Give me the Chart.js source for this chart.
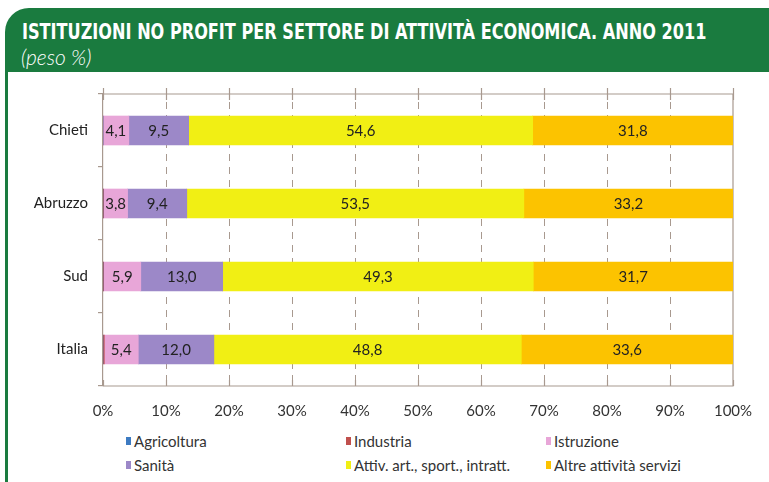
<!DOCTYPE html>
<html>
<head>
<meta charset="utf-8">
<script src="https://cdn.jsdelivr.net/npm/chart.js@4.4.1/dist/chart.umd.min.js"></script>
<style>
  html, body { margin: 0; padding: 0; background: #fff; }
  body { width: 769px; height: 482px; position: relative; overflow: hidden; font-family: 'Lato', 'Noto Sans', sans-serif; }
  #head { position: absolute; left: 5px; top: 8px; width: 764px; height: 64px; background: #1a7b3f; border-top-left-radius: 24px; }
  #side { position: absolute; left: 5px; top: 60px; width: 3px; height: 430px; background: #1a7b3f; }
  #title { position: absolute; left: 17px; top: 11px; color: #fff; font-family: 'Liberation Sans Narrow', 'DejaVu Sans Condensed', sans-serif; font-weight: bold; font-size: 22px; white-space: nowrap; transform-origin: left top; }
  #sub { position: absolute; left: 16px; top: 36px; color: #fff; font-family: 'Lato', sans-serif; font-style: italic; font-weight: 300; font-size: 21px; }
  #wrap { position: absolute; left: 0; top: 72px; width: 769px; height: 356px; }
  #legend { position: absolute; left: 0; top: 429px; width: 769px; height: 52px; font-size: 15px; color: #333; }
  .item { position: absolute; white-space: nowrap; }
  .item i { display: inline-block; width: 5px; height: 8px; margin-right: 3px; vertical-align: 2px; }
</style>
</head>
<body>
<div id="head">
  <div id="title">ISTITUZIONI NO PROFIT PER SETTORE DI ATTIVITÀ ECONOMICA. ANNO 2011</div>
  <div id="sub">(peso %)</div>
</div>
<div id="side"></div>
<div id="wrap"><canvas id="chart"></canvas></div>
<div id="legend"></div>
<script>
// categorie e valori (peso %)
const territori = ['Chieti', 'Abruzzo', 'Sud', 'Italia'];
const settori = ['Agricoltura', 'Industria', 'Istruzione', 'Sanità', 'Attiv. art., sport., intratt.', 'Altre attività servizi'];
const agricoltura = [0, 0, 0, 0];
const industria = [0, 0.1, 0.1, 0.2];
const istruzione = [4.1, 3.8, 5.9, 5.4];
const sanita = [9.5, 9.4, 13.0, 12.0];
const attivArt = [54.6, 53.5, 49.3, 48.8];
const altreServizi = [31.8, 33.2, 31.7, 33.6];
const xTicks = [0, 10, 20, 30, 40, 50, 60, 70, 80, 90, 100];

const COLORS = ['#3d7bc2', '#c0504d', '#e8a6d8', '#9c88c8', '#f1ef14', '#fcc300'];
const serie = [agricoltura, industria, istruzione, sanita, attivArt, altreServizi];
const GRID = '#a8998f';

// fit title width
const t = document.getElementById('title');
t.style.transform = 'scaleX(' + (684 / t.scrollWidth) + ')';

// legend
const leg = document.getElementById('legend');
const legPos = [[126, 3], [346, 3], [546, 3], [126, 27], [346, 27], [546, 27]];
settori.forEach((s, i) => {
  const d = document.createElement('div');
  d.className = 'item';
  d.style.left = legPos[i][0] + 'px';
  d.style.top = legPos[i][1] + 'px';
  d.innerHTML = '<i style="background:' + COLORS[i] + '"></i>' + s;
  leg.appendChild(d);
});

// value labels inside segments
const valueLabels = {
  id: 'valueLabels',
  afterDatasetsDraw(chart) {
    const ctx = chart.ctx;
    ctx.save();
    ctx.font = '15px Lato, sans-serif';
    ctx.fillStyle = '#222';
    ctx.textAlign = 'center';
    ctx.textBaseline = 'middle';
    chart.data.datasets.forEach((ds, di) => {
      chart.getDatasetMeta(di).data.forEach((bar, i) => {
        const v = ds.data[i];
        if (v < 1) return;
        const x = (bar.x + bar.base) / 2;
        ctx.fillText(v.toFixed(1).replace('.', ','), x, bar.y + 1);
      });
    });
    ctx.restore();
  }
};

// dashed grid + solid frame: top, bottom, right lines plus tick stubs
const frame = {
  id: 'frame',
  beforeDatasetsDraw(chart) {
    const { ctx, chartArea: a, scales } = chart;
    ctx.save();
    ctx.strokeStyle = GRID;
    ctx.lineWidth = 1;
    ctx.setLineDash([7, 6]);
    ctx.beginPath();
    xTicks.slice(1, -1).forEach(v => {
      const x = Math.round(scales.x.getPixelForValue(v)) + 0.5;
      ctx.moveTo(x, a.top + 8); ctx.lineTo(x, a.bottom - 6);
    });
    ctx.stroke();
    ctx.setLineDash([]);
    ctx.lineWidth = 1.2;
    ctx.beginPath();
    ctx.moveTo(a.left, a.top); ctx.lineTo(a.right, a.top); ctx.lineTo(a.right, a.bottom); ctx.lineTo(a.left, a.bottom);
    xTicks.forEach(v => {
      const x = Math.round(scales.x.getPixelForValue(v)) + 0.5;
      ctx.moveTo(x, a.top - 6); ctx.lineTo(x, a.top + 6);
      ctx.moveTo(x, a.bottom - 6); ctx.lineTo(x, a.bottom);
    });
    ctx.stroke();
    ctx.restore();
  }
};

new Chart(document.getElementById('chart'), {
  type: 'bar',
  data: {
    labels: territori,
    datasets: settori.map((s, i) => ({
      label: s,
      data: serie[i],
      backgroundColor: COLORS[i],
      borderWidth: 0,
      barThickness: 29
    }))
  },
  options: {
    indexAxis: 'y',
    responsive: true,
    maintainAspectRatio: false,
    animation: false,
    layout: { padding: { top: 22, right: 36, left: 0, bottom: 0 } },
    plugins: { legend: { display: false }, tooltip: { enabled: false } },
    scales: {
      x: {
        stacked: true,
        min: 0, max: 100,
        afterBuildTicks: s => { s.ticks = xTicks.map(v => ({ value: v })); },
        ticks: { callback: v => v + '%', color: '#333', font: { size: 15, family: 'Lato' }, padding: 8, maxRotation: 0 },
        grid: { display: false },
        border: { display: false }
      },
      y: {
        stacked: true,
        afterFit: s => { s.width = 103; },
        ticks: { color: '#222', font: { size: 15, family: 'Lato' }, padding: 10 },
        grid: { offset: true, drawOnChartArea: false, color: GRID, tickLength: 5, lineWidth: 1.2 },
        border: { display: true, color: GRID, width: 1.2 }
      }
    }
  },
  plugins: [frame, valueLabels]
});
</script>
</body>
</html>
